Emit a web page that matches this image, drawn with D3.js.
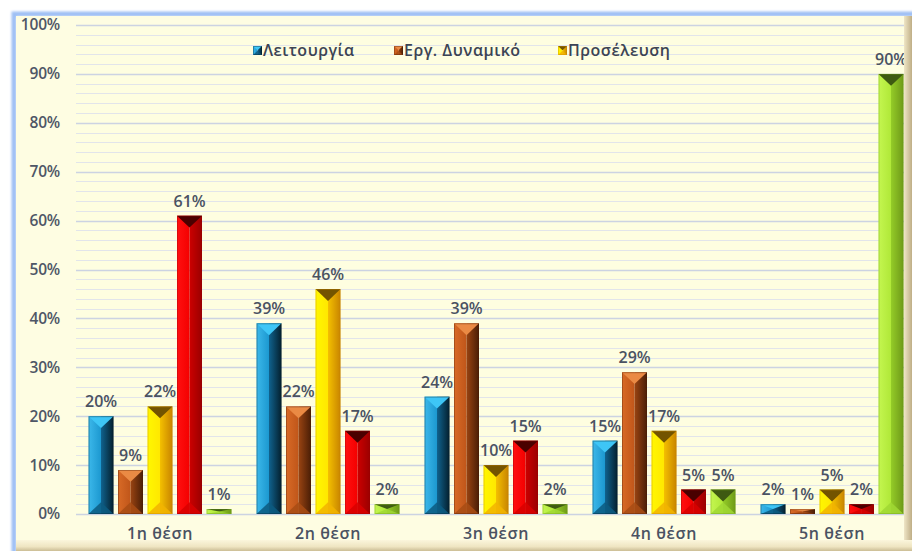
<!DOCTYPE html>
<html>
<head>
<meta charset="utf-8">
<script src="https://cdn.jsdelivr.net/npm/d3@7"></script>
<style>
  html, body { margin: 0; padding: 0; background: #ffffff; }
  svg { display: block; }
  text { font-family: "Open Sans", "Noto Sans", sans-serif; }
</style>
</head>
<body>
<svg id="chart" width="912" height="551"></svg>
<script>
// Categories (ranking positions) and the five series of percentages
const categories = ["1η θέση", "2η θέση", "3η θέση", "4η θέση", "5η θέση"];
const seriesNames = ["Λειτουργία", "Εργ. Δυναμικό", "Προσέλευση", "Σειρά 4", "Σειρά 5"];
const legendNames = ["Λειτουργία", "Εργ. Δυναμικό", "Προσέλευση"];
const leitourgia = [0.20, 0.39, 0.24, 0.15, 0.02];
const ergDynamiko = [0.09, 0.22, 0.39, 0.29, 0.01];
const proselefsi = [0.22, 0.46, 0.10, 0.17, 0.05];
const series4 = [0.61, 0.17, 0.15, 0.05, 0.02];
const series5 = [0.01, 0.02, 0.02, 0.05, 0.90];
const seriesValues = [leitourgia, ergDynamiko, proselefsi, series4, series5];
const yTicks = [0, 0.1, 0.2, 0.3, 0.4, 0.5, 0.6, 0.7, 0.8, 0.9, 1.0];

// Bevelled bar palette: left face, right face, top cap, bottom cap
const palette = [
  { l0: "#3cb8ea", l1: "#1c98d0", r0: "#10628e", r1: "#04202e", top: "#3ec6f6", bot: "#0c5a80" },
  { l0: "#d86a26", l1: "#c0561a", r0: "#9a4412", r1: "#4a1e06", top: "#ea8a44", bot: "#a84c14" },
  { l0: "#fff700", l1: "#ffe800", r0: "#f4c000", r1: "#c88400", top: "#735400", bot: "#f2b400" },
  { l0: "#ff1010", l1: "#f40000", r0: "#cc0000", r1: "#9a0000", top: "#4a0000", bot: "#d80000" },
  { l0: "#c4f650", l1: "#b0e838", r0: "#94cc28", r1: "#6e9a18", top: "#3e5a12", bot: "#a0d834" }
];

const svg = d3.select("#chart");
const defs = svg.append("defs");

palette.forEach((p, i) => {
  const gl = defs.append("linearGradient").attr("id", "gl" + i).attr("x1", "0").attr("x2", "1").attr("y1", "0").attr("y2", "0");
  gl.append("stop").attr("offset", "0").attr("stop-color", p.l0);
  gl.append("stop").attr("offset", "1").attr("stop-color", p.l1);
  const gr = defs.append("linearGradient").attr("id", "gr" + i).attr("x1", "0").attr("x2", "1").attr("y1", "0").attr("y2", "0");
  gr.append("stop").attr("offset", "0").attr("stop-color", p.r0);
  gr.append("stop").attr("offset", "1").attr("stop-color", p.r1);
});

// Frame gradients
const gFrameR = defs.append("linearGradient").attr("id", "frameR").attr("x1", "0").attr("x2", "1").attr("y1", "0").attr("y2", "0");
gFrameR.append("stop").attr("offset", "0").attr("stop-color", "#efe6c6");
gFrameR.append("stop").attr("offset", "1").attr("stop-color", "#bfae86");
const gFrameB = defs.append("linearGradient").attr("id", "frameB").attr("x1", "0").attr("x2", "0").attr("y1", "0").attr("y2", "1");
gFrameB.append("stop").attr("offset", "0").attr("stop-color", "#fbf6dc");
gFrameB.append("stop").attr("offset", "0.6").attr("stop-color", "#efe5c2");
gFrameB.append("stop").attr("offset", "1").attr("stop-color", "#cbbd95");
const glow = defs.append("filter").attr("id", "glow").attr("x", "-5%").attr("y", "-5%").attr("width", "110%").attr("height", "110%");
glow.append("feGaussianBlur").attr("stdDeviation", "1.2");

// Chart background and frame
svg.append("rect").attr("x", 14).attr("y", 14).attr("width", 920).attr("height", 560)
  .attr("fill", "none").attr("stroke", "#9fc0f4").attr("stroke-width", 5).attr("filter", "url(#glow)");
svg.append("rect").attr("x", 16).attr("y", 16).attr("width", 900).attr("height", 540).attr("fill", "#fefde2");

// Scales
const x0 = d3.scaleBand().domain(categories).range([76, 916]).padding(0);
const x1 = d3.scaleBand().domain(d3.range(seriesNames.length)).range([0, x0.bandwidth()])
  .paddingInner(0.153).paddingOuter(0.424);
const y = d3.scaleLinear().domain([0, 1]).range([514, 25]);

// Plot area fill
svg.append("rect").attr("x", 76).attr("y", y(1)).attr("width", 829).attr("height", y(0) - y(1)).attr("fill", "#fefee0");

// Minor gridlines every 2%, major every 10%
const minorTicks = d3.range(0, 101, 2).filter(v => v % 10 !== 0).map(v => v / 100);
svg.append("g").selectAll("line").data(minorTicks).join("line")
  .attr("x1", 76).attr("x2", 905).attr("y1", d => Math.round(y(d)) + 0.5).attr("y2", d => Math.round(y(d)) + 0.5)
  .attr("stroke", "#e2e5ea").attr("stroke-width", 1);
svg.append("g").selectAll("line").data(yTicks).join("line")
  .attr("x1", 76).attr("x2", 905).attr("y1", d => Math.round(y(d)) + 0.5).attr("y2", d => Math.round(y(d)) + 0.5)
  .attr("stroke", "#ccd3e2").attr("stroke-width", 1.6);

// Y axis labels
const yAxis = d3.axisLeft(y).tickValues(yTicks).tickFormat(d3.format(".0%")).tickSize(0).tickPadding(0);
const yg = svg.append("g").attr("transform", "translate(60,0)").call(yAxis);
yg.select(".domain").remove();
yg.selectAll("text").attr("fill", "#4e5666").attr("font-size", 15.5).attr("font-weight", 600)
  .attr("letter-spacing", "-0.2");

// Category labels
const xAxis = d3.axisBottom(x0).tickSize(0).tickPadding(0);
const xg = svg.append("g").attr("transform", "translate(0,528)").call(xAxis);
xg.select(".domain").remove();
xg.selectAll("text").attr("fill", "#4a5262").attr("font-size", 16).attr("font-weight", 600)
  .attr("letter-spacing", "0.6");

// Flattened bar records
const bars = [];
categories.forEach((c, ci) => {
  seriesValues.forEach((vals, si) => bars.push({ cat: c, s: si, v: vals[ci] }));
});

function bevelBar(g, x, yTop, w, h, si) {
  const p = palette[si];
  const hw = w / 2;
  const cap = Math.min(hw * 0.95, h / 2);
  g.append("rect").attr("x", x).attr("y", yTop).attr("width", hw).attr("height", h).attr("fill", `url(#gl${si})`);
  g.append("rect").attr("x", x + hw).attr("y", yTop).attr("width", hw).attr("height", h).attr("fill", `url(#gr${si})`);
  g.append("polygon").attr("points", `${x},${yTop} ${x + w},${yTop} ${x + hw},${yTop + cap}`).attr("fill", p.top);
  g.append("polygon").attr("points", `${x},${yTop + h} ${x + w},${yTop + h} ${x + hw},${yTop + h - cap}`).attr("fill", p.bot).attr("opacity", 0.85);
  g.append("rect").attr("x", x + 0.5).attr("y", yTop + 0.5).attr("width", w - 1).attr("height", Math.max(0, h - 1))
    .attr("fill", "none").attr("stroke", p.r1).attr("stroke-opacity", 0.35).attr("stroke-width", 1);
}

const barG = svg.append("g");
bars.forEach(b => {
  const bx = x0(b.cat) + x1(b.s);
  const g = barG.append("g");
  bevelBar(g, bx, y(b.v), x1.bandwidth(), y(0) - y(b.v), b.s);
});

// Value labels
svg.append("g").selectAll("text").data(bars).join("text")
  .attr("x", b => x0(b.cat) + x1(b.s) + x1.bandwidth() / 2)
  .attr("y", b => y(b.v) - 9)
  .attr("text-anchor", "middle")
  .attr("fill", "#4a5262").attr("font-size", 16).attr("font-weight", 600).attr("letter-spacing", "-0.1")
  .text(b => d3.format(".0%")(b.v));

// Legend
const legendX = [253, 394, 558];
const lg = svg.append("g");
legendNames.forEach((name, i) => {
  const g = lg.append("g");
  bevelBar(g, legendX[i], 46, 9, 9, i);
  g.append("text").attr("x", legendX[i] + 10).attr("y", 56).attr("fill", "#3c4454")
    .attr("font-size", 16).attr("font-weight", 600).attr("letter-spacing", "0.5").text(name);
});

// Right and bottom bevel of the frame
svg.append("rect").attr("x", 904).attr("y", 16).attr("width", 8).attr("height", 535).attr("fill", "url(#frameR)");
svg.append("rect").attr("x", 16).attr("y", 540).attr("width", 896).attr("height", 11).attr("fill", "url(#frameB)");
</script>
</body>
</html>
